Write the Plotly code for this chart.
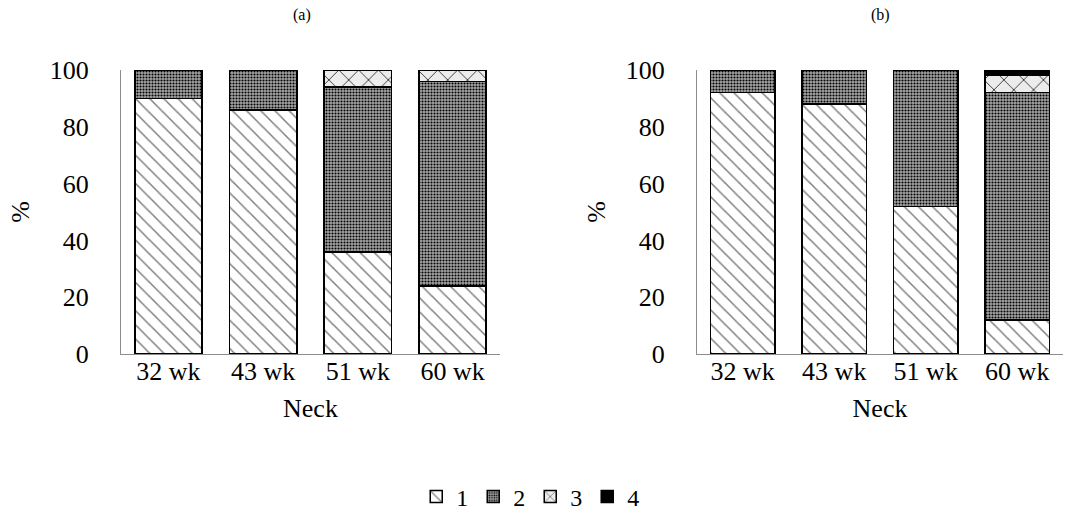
import plotly.graph_objects as go

categories = ["32 wk", "43 wk", "51 wk", "60 wk"]
series_names = ["1", "2", "3", "4"]

# panel (a)
a_s1 = [90, 86, 36, 24]
a_s2 = [10, 14, 58, 72]
a_s3 = [0, 0, 6, 4]
a_s4 = [0, 0, 0, 0]

# panel (b)
b_s1 = [92, 88, 52, 12]
b_s2 = [8, 12, 48, 80]
b_s3 = [0, 0, 0, 6]
b_s4 = [0, 0, 0, 2]

y_ticks = [0, 20, 40, 60, 80, 100]

FONT = "Liberation Serif"

patterns = [
    dict(shape="\\", fgcolor="black", bgcolor="white", size=10, solidity=0.15, fillmode="overlay"),
    dict(shape=".", fgcolor="black", bgcolor="#a8a8a8", size=3, solidity=0.4, fillmode="replace"),
    dict(shape="x", fgcolor="black", bgcolor="#ececec", size=14, solidity=0.1, fillmode="replace"),
    dict(shape="", fgcolor="black", bgcolor="black"),
]
colors = ["white", "#a8a8a8", "#ececec", "black"]

fig = go.Figure()
panels = [("x", "y", [a_s1, a_s2, a_s3, a_s4], True), ("x2", "y2", [b_s1, b_s2, b_s3, b_s4], False)]
for xa, ya, data, show in panels:
    for i, vals in enumerate(data):
        fig.add_trace(go.Bar(
            x=categories, y=vals, name=series_names[i], xaxis=xa, yaxis=ya,
            marker=dict(color=colors[i], pattern=patterns[i],
                        line=dict(color="black", width=1.5)),
            showlegend=show, legendgroup=series_names[i],
        ))

axis_font = dict(family=FONT, size=26, color="black")
common_x = dict(showline=True, linecolor="#8c8c8c", linewidth=1, showgrid=False,
                tickfont=axis_font, ticks="", ticklabelstandoff=-6,
                title=dict(text="Neck", font=axis_font, standoff=13), automargin=False)
common_y = dict(showline=True, linecolor="#8c8c8c", linewidth=1, showgrid=False,
                range=[0, 100], tickvals=y_ticks, tickfont=axis_font, ticks="",
                ticklabelstandoff=26, zeroline=False,
                title=dict(text="%", font=axis_font, standoff=12), automargin=False)

fig.update_layout(
    width=1069, height=520,
    margin=dict(l=0, r=0, t=0, b=0),
    paper_bgcolor="white", plot_bgcolor="white",
    barmode="stack", bargap=0.29,
    font=dict(family=FONT, color="black"),
    xaxis=dict(domain=[0.1132, 0.4677], anchor="y", **common_x),
    xaxis2=dict(domain=[0.652, 0.9944], anchor="y2", **common_x),
    yaxis=dict(domain=[0.3192, 0.8654], anchor="x", **common_y),
    yaxis2=dict(domain=[0.3192, 0.8654], anchor="x2", **common_y),
    legend=dict(orientation="h", x=0.496, xanchor="center", y=1 - 497 / 520, yanchor="middle",
                font=dict(family=FONT, size=24, color="black"), itemwidth=30,
                tracegroupgap=0, traceorder="normal"),
    annotations=[
        dict(text="(a)", x=302 / 1069, xanchor="center", y=1 - 15 / 520, yanchor="middle",
             xref="paper", yref="paper", showarrow=False,
             font=dict(family=FONT, size=16, color="black")),
        dict(text="(b)", x=880 / 1069, xanchor="center", y=1 - 15 / 520, yanchor="middle",
             xref="paper", yref="paper", showarrow=False,
             font=dict(family=FONT, size=16, color="black")),
    ],
)

fig.write_html("out.html", config={"displayModeBar": False},
               post_script="document.body.style.margin='0';document.body.style.padding='0';")
